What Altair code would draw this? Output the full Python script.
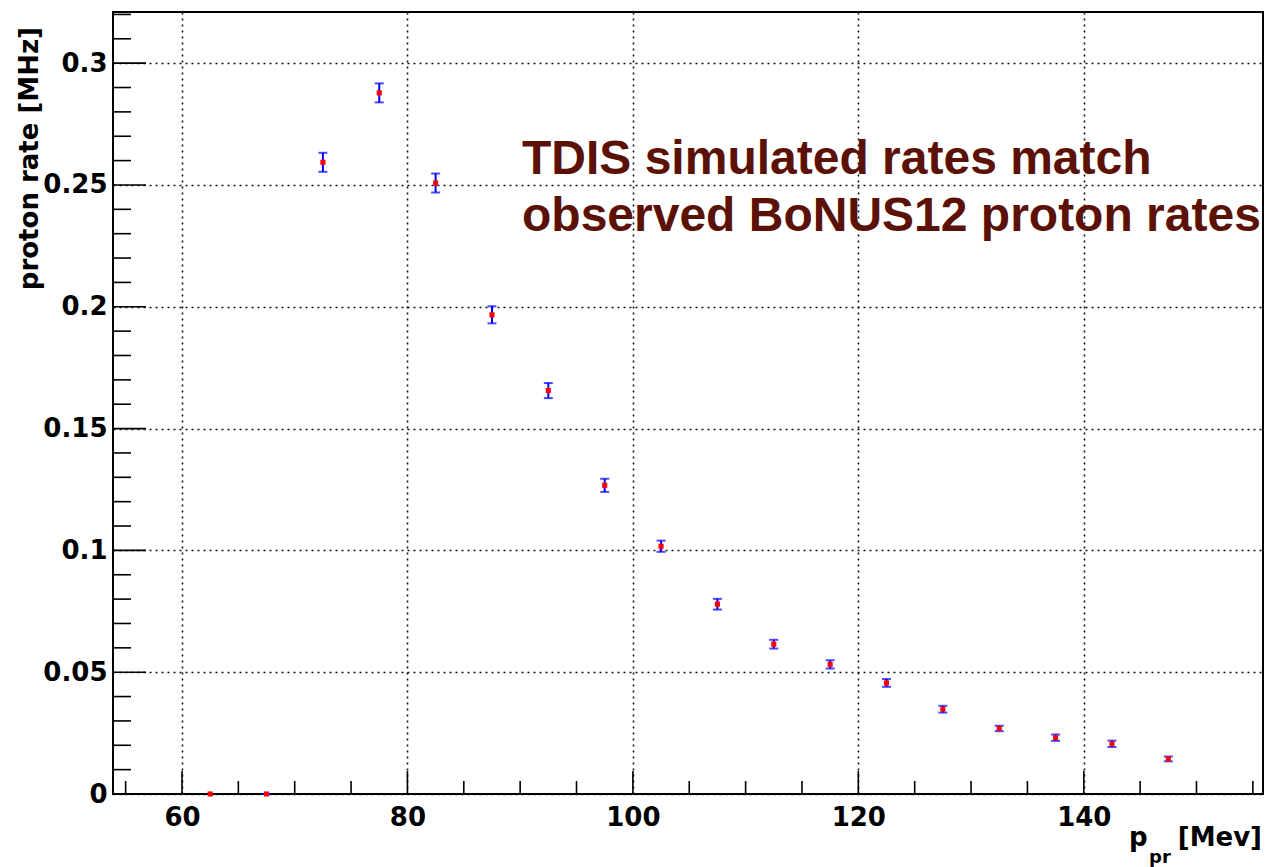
import altair as alt
import pandas as pd

# Bin centres of the proton momentum histogram [MeV] and measured rates [MHz]
p_pr = [62.5, 67.5, 72.5, 77.5, 82.5, 87.5, 92.5, 97.5, 102.5, 107.5,
        112.5, 117.5, 122.5, 127.5, 132.5, 137.5, 142.5, 147.5]
rate = [0.0, 0.0, 0.2593, 0.2878, 0.2508, 0.1967, 0.1656, 0.1267, 0.1017, 0.0779,
        0.0615, 0.0532, 0.0456, 0.0348, 0.0269, 0.0231, 0.0206, 0.0144]
rate_err = [None, 0.0, 0.0039, 0.0039, 0.0039, 0.0035, 0.0031, 0.0027, 0.0023, 0.0022,
            0.0018, 0.0017, 0.0016, 0.0014, 0.0011, 0.0013, 0.0013, 0.0010]

x_major = [60, 80, 100, 120, 140]
x_minor = [55, 65, 70, 75, 85, 90, 95, 105, 110, 115, 125, 130, 135, 145, 150, 155]
y_major = [0.0, 0.05, 0.10, 0.15, 0.20, 0.25, 0.30]
y_minor = [0.01, 0.02, 0.03, 0.04, 0.06, 0.07, 0.08, 0.09, 0.11, 0.12, 0.13, 0.14,
           0.16, 0.17, 0.18, 0.19, 0.21, 0.22, 0.23, 0.24, 0.26, 0.27, 0.28, 0.29,
           0.31, 0.32]

W, H = 1150, 782
FONT = "DejaVu Sans"

df = pd.DataFrame({"p": p_pr, "rate": rate, "err": rate_err})
df_err = df.dropna().copy()
df_err["lo"] = df_err["rate"] - df_err["err"]
df_err["hi"] = df_err["rate"] + df_err["err"]

xs = alt.Scale(domain=[53.88, 155.9], nice=False, zero=False)
ys = alt.Scale(domain=[0, 0.321], nice=False, zero=False)

# one shared axis definition per direction, used by every layer
x_axis = alt.Axis(values=x_major, domain=False, ticks=False, grid=True,
                  gridColor="#111111", gridDash=[2, 4], gridWidth=1.6,
                  labelFont=FONT, labelFontWeight="bold", labelFontSize=26,
                  labelColor="black", labelPadding=10, title=None,
                  labelFlush=False)
y_axis = alt.Axis(values=y_major, format="~g", domain=False, ticks=False, grid=True,
                  gridColor="#111111", gridDash=[2, 4], gridWidth=1.6,
                  labelFont=FONT, labelFontWeight="bold", labelFontSize=26,
                  labelColor="black", labelPadding=6, title=None,
                  labelFlush=False)


def X(field):
    return alt.X(field, type="quantitative", scale=xs, axis=x_axis)


def Y(field):
    return alt.Y(field, type="quantitative", scale=ys, axis=y_axis)


# error bars: vertical stroke plus caps
bars = alt.Chart(df_err).mark_rule(color="#0000ff", strokeWidth=2).encode(
    x=X("p"), y=Y("lo"), y2="hi:Q",
)
caps_lo = alt.Chart(df_err).mark_tick(color="#0000ff", orient="horizontal",
                                      size=9, thickness=2).encode(
    x=X("p"), y=Y("lo"),
)
caps_hi = alt.Chart(df_err).mark_tick(color="#0000ff", orient="horizontal",
                                      size=9, thickness=2).encode(
    x=X("p"), y=Y("hi"),
)
markers = alt.Chart(df).mark_square(color="#ff0000", size=26, opacity=1).encode(
    x=X("p"), y=Y("rate"),
)


# inward-pointing axis ticks
def xticks(vals, length):
    return alt.Chart(pd.DataFrame({"v": vals})).mark_rule(
        color="black", strokeWidth=1.6).encode(
        x=X("v"), y=alt.value(H), y2=alt.value(H - length))


def yticks(vals, length):
    return alt.Chart(pd.DataFrame({"v": vals})).mark_rule(
        color="black", strokeWidth=1.6).encode(
        y=Y("v"), x=alt.value(0), x2=alt.value(length))


one = pd.DataFrame({"t": [0]})

ann = alt.Chart(one).mark_text(
    font="Liberation Sans", fontWeight="bold", fontSize=48, color="#5b1105",
    align="left", baseline="alphabetic", lineHeight=57,
    text=["TDIS simulated rates match", "observed BoNUS12 proton rates"],
).encode(x=alt.value(409), y=alt.value(162))

ytitle = alt.Chart(one).mark_text(
    font=FONT, fontWeight="bold", fontSize=26, color="black",
    align="right", baseline="middle", angle=270, text="proton rate [MHz]",
).encode(x=alt.value(-83), y=alt.value(15))

xt_p = alt.Chart(one).mark_text(
    font=FONT, fontWeight="bold", fontSize=26, color="black",
    align="left", baseline="alphabetic", text="p",
).encode(x=alt.value(1016), y=alt.value(834))
xt_sub = alt.Chart(one).mark_text(
    font=FONT, fontWeight="bold", fontSize=18, color="black",
    align="left", baseline="alphabetic", text="pr",
).encode(x=alt.value(1036), y=alt.value(851))
xt_unit = alt.Chart(one).mark_text(
    font=FONT, fontWeight="bold", fontSize=26, color="black",
    align="right", baseline="alphabetic", text="[Mev]",
).encode(x=alt.value(1149), y=alt.value(834))

chart = alt.layer(
    bars, caps_lo, caps_hi, markers,
    xticks(x_major, 23), xticks(x_minor, 13),
    yticks(y_major, 33), yticks(y_minor, 18),
    ann, ytitle, xt_p, xt_sub, xt_unit,
).properties(
    width=W, height=H,
    autosize=alt.AutoSizeParams(type="none"),
    padding={"left": 113, "top": 12, "right": 4, "bottom": 73},
    background="white",
).configure_view(stroke="black", strokeWidth=2)

chart.save("out.html", embed_options={"renderer": "svg", "actions": False})
